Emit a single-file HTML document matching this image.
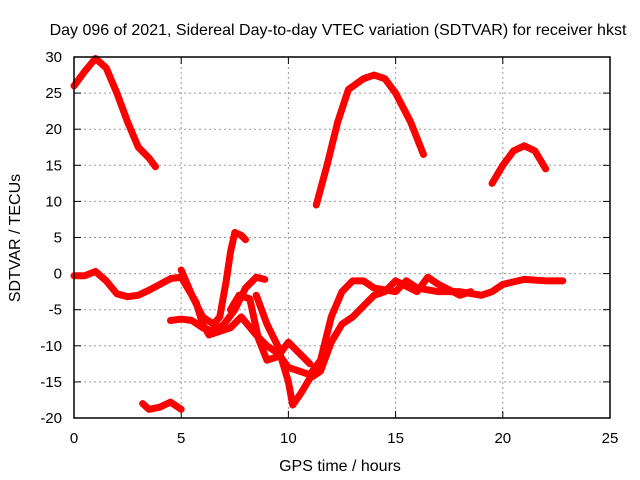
<!DOCTYPE html>
<html><head><meta charset="utf-8"><style>
body{margin:0;background:#fff;}
svg{display:block;font-family:"Liberation Sans",sans-serif;font-size:15px;}
</style></head><body>
<svg id="c" width="640" height="480">
<text x="338" y="35" text-anchor="middle" font-size="16">Day 096 of 2021, Sidereal Day-to-day VTEC variation (SDTVAR) for receiver hkst</text>
<text x="340" y="471" text-anchor="middle" font-size="16">GPS time / hours</text>
<text transform="translate(20,238) rotate(-90)" text-anchor="middle" font-size="16">SDTVAR / TECUs</text>
<g id="grid"></g><g id="series"></g>
<rect x="74" y="57" width="536" height="361" fill="none" stroke="#000" stroke-width="1.5"/>
</svg>
<script>
const xTicks=[0,5,10,15,20,25];
const yTicks=[30,25,20,15,10,5,0,-5,-10,-15,-20];
const seriesA=[[0,26],[0.5,28],[1,29.8],[1.5,28.5],[2,25],[2.5,21],[3,17.5],[3.5,16],[3.8,14.8]];
const seriesB=[[11.3,9.5],[11.8,15],[12.3,21],[12.8,25.5],[13.5,27],[14,27.5],[14.5,27],[15,25],[15.7,21],[16.3,16.5]];
const seriesC=[[19.5,12.5],[20,15],[20.5,17],[21,17.7],[21.5,17],[22,14.5]];
const seriesD=[[3.2,-18],[3.5,-18.8],[4,-18.5],[4.5,-17.8],[5,-18.8]];
const seriesE=[[0,-0.3],[0.5,-0.3],[1,0.3],[1.5,-1],[2,-2.8],[2.5,-3.2],[3,-3],[3.5,-2.3],[4,-1.5],[4.5,-0.7],[5,-0.5],[5.3,-2],[5.7,-4],[6,-7],[6.3,-8.5],[6.8,-8],[7.3,-7.5],[7.8,-6],[8.5,-8.5],[9,-10],[9.5,-11],[10,-13],[10.5,-13.5],[11,-14],[11.5,-12],[12,-6],[12.5,-2.5],[13,-1],[13.5,-1],[14,-2],[15,-2.5],[15.5,-1],[16,-2],[17,-2.5],[18,-2.5],[19,-3],[19.5,-2.5],[20,-1.5],[21,-0.8],[22,-1],[22.8,-1]];
const seriesF=[[4.5,-6.5],[5,-6.3],[5.5,-6.5],[6,-7.5],[6.5,-8],[7,-7],[7.5,-5],[8,-2],[8.5,-0.5],[8.9,-0.8]];
const seriesG=[[5,0.5],[5.5,-3],[6,-6],[6.5,-7],[6.8,-6],[7.1,-1],[7.3,3],[7.5,5.7],[7.8,5.3],[8,4.7]];
const seriesH=[[7.3,-5],[7.7,-3],[8.2,-3.5],[8.6,-9],[9,-12],[9.5,-11.5],[10,-9.5],[10.5,-11],[11,-12.5]];
const seriesI=[[8.5,-3],[9,-7],[9.5,-10],[10,-15],[10.2,-18.2],[10.6,-16.5],[11,-14.5],[11.5,-13.5],[12,-9.5],[12.5,-7],[13,-6],[13.5,-4.5],[14,-3],[14.5,-2.5],[15,-1],[16,-2.5],[16.5,-0.5],[17,-1.5],[18,-3],[18.5,-2.5]];
const allSeries=[seriesA,seriesB,seriesC,seriesD,seriesE,seriesF,seriesG,seriesH,seriesI];
const NS="http://www.w3.org/2000/svg";
const X=h=>74+h*536/25, Y=v=>57+(30-v)*361/50;
const grid=document.getElementById('grid'), ser=document.getElementById('series');
function mk(tag,at,parent){const e=document.createElementNS(NS,tag);for(const k in at)e.setAttribute(k,at[k]);parent.appendChild(e);return e;}
xTicks.forEach(t=>{
  if(t>0&&t<25){const l=mk('line',{x1:X(t),x2:X(t),y1:57,y2:418,stroke:'#999','stroke-dasharray':'2,3'},grid);
  
  }
  mk('line',{x1:X(t),x2:X(t),y1:418,y2:411,stroke:'#000'},grid);
  mk('line',{x1:X(t),x2:X(t),y1:57,y2:64,stroke:'#000'},grid);
  const tx=mk('text',{x:X(t),y:443,'text-anchor':'middle'},grid);tx.textContent=t;
  
  
});
yTicks.forEach(t=>{
  if(t<30&&t>-20){const l=mk('line',{x1:74,x2:610,y1:Y(t),y2:Y(t),stroke:'#999','stroke-dasharray':'2,3'},grid);
  
  }
  mk('line',{x1:74,x2:81,y1:Y(t),y2:Y(t),stroke:'#000'},grid);
  mk('line',{x1:603,x2:610,y1:Y(t),y2:Y(t),stroke:'#000'},grid);
  const tx=mk('text',{x:62,y:Y(t)+5,'text-anchor':'end'},grid);tx.textContent=t;
  
  
});
allSeries.forEach(s=>{
  const p=mk('polyline',{points:s.map(d=>X(d[0])+','+Y(d[1])).join(' '),fill:'none',stroke:'#f00','stroke-width':7,'stroke-linejoin':'round','stroke-linecap':'round'},ser);
  
  
});
</script>
</body></html>
